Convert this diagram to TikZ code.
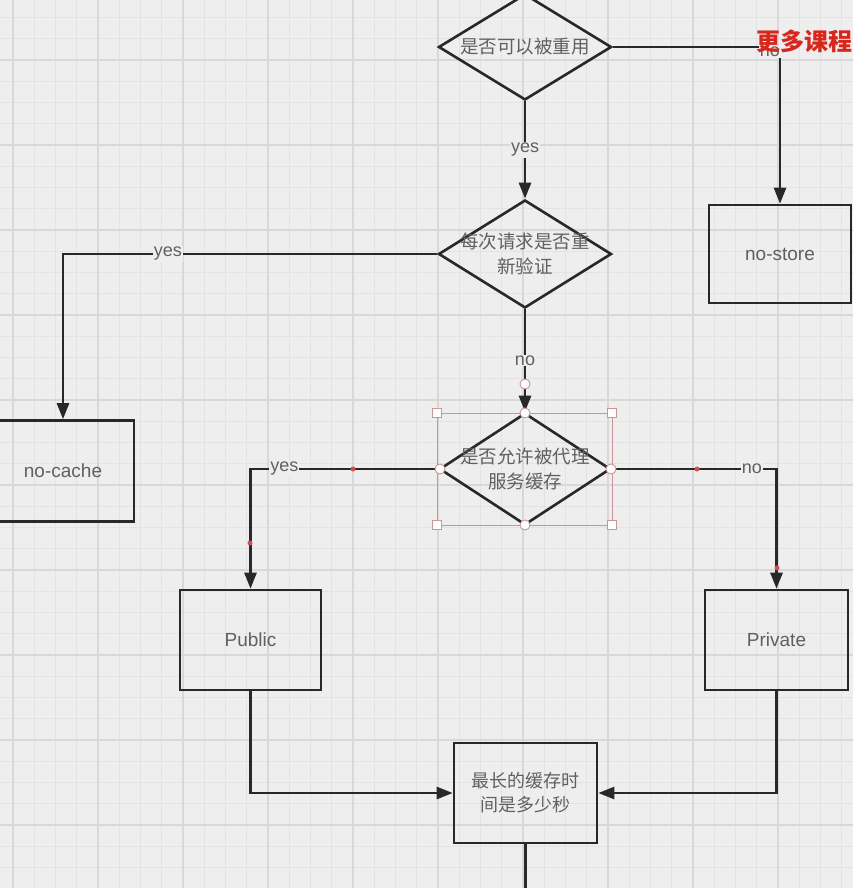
\documentclass[tikz,border=0pt]{standalone}
\usepackage{fontspec}
\setmainfont{Liberation Sans}
\newfontfamily\cjk{Noto Sans CJK SC}
\usetikzlibrary{shapes.geometric,arrows.meta}
\definecolor{bg}{HTML}{EEEEEF}
\definecolor{gridminor}{HTML}{E3E3E5}
\definecolor{gridmajor}{HTML}{D8D8DB}
\definecolor{ink}{HTML}{282828}
\definecolor{txt}{HTML}{606060}
\definecolor{pink}{HTML}{C89696}
\definecolor{reddot}{HTML}{D05050}
\definecolor{wm}{HTML}{D8261C}
\tikzset{
  dia/.style={draw=ink, line width=2.6pt, shape=diamond, inner sep=0pt},
  diatext/.style={inner sep=0pt, text=txt, align=center, font=\cjk\fontsize{18.5}{24.5}\selectfont},
  box/.style={draw=ink, line width=2.6pt, rectangle, inner sep=0pt, text=txt,
    align=center, font=\fontsize{19}{22}\selectfont},
  conn/.style={draw=ink, line width=2.6pt, -{Triangle[length=16pt,width=12pt]}},
  plainconn/.style={draw=ink, line width=2.6pt},
  lbl/.style={fill=bg, inner sep=1pt, text=txt, font=\fontsize{18}{20}\selectfont},
  handlesq/.style={draw=pink, fill=white, line width=0.9pt, minimum size=9pt, inner sep=0pt, rectangle},
  handleci/.style={draw=pink, fill=white, line width=0.9pt, minimum size=10pt, inner sep=0pt, circle},
  rdot/.style={fill=reddot, circle, minimum size=5pt, inner sep=0pt},
}
\begin{document}
\begin{tikzpicture}[x=1pt,y=-1pt]
\useasboundingbox (0,0) rectangle (853,888);
\clip (0,0) rectangle (853,888);
\fill[bg] (0,0) rectangle (853,888);
% grid
\foreach \i in {0,...,40} {
  \draw[gridminor, line width=0.8pt] ({13+21.25*(\i-1)},0) -- ++(0,888);
}
\foreach \i in {-3,...,39} {
  \draw[gridminor, line width=0.8pt] (0,{60+21.25*\i}) -- ++(853,0);
}
\foreach \i in {0,...,10} {
  \draw[gridmajor, line width=1.1pt] ({13+85*\i},0) -- ++(0,888);
}
\foreach \i in {-1,...,10} {
  \draw[gridmajor, line width=1.1pt] (0,{60+85*\i}) -- ++(853,0);
}
% nodes
\node[dia, minimum width=173pt, minimum height=106pt] (d1) at (525,47) {};
\node[diatext] (d1t) at (d1.center) {是否可以被重用};
\node[dia, minimum width=173pt, minimum height=108pt] (d2) at (525,254) {};
\node[diatext] (d2t) at (d2.center) {每次请求是否重\\新验证};
\node[dia, minimum width=171pt, minimum height=112pt] (d3) at (525,469) {};
\node[diatext] (d3t) at (d3.center) {是否允许被代理\\服务缓存};
\node[box, minimum width=142pt, minimum height=98pt] (nostore) at (780,254) {no-store};
\node[box, minimum width=142pt, minimum height=101pt] (nocache) at (63,471) {no-cache};
\node[box, minimum width=141pt, minimum height=100pt] (public) at (250.5,640) {Public};
\node[box, minimum width=143pt, minimum height=100pt] (private) at (776.5,640) {Private};
\node[box, minimum width=143pt, minimum height=100pt, font=\cjk\fontsize{18}{24}\selectfont] (final) at (525.5,793) {最长的缓存时\\间是多少秒};
\coordinate (bottomend) at (525.5,900);
% connectors
\draw[conn] (d1.east) -| node[lbl, pos=0.47, yshift=-5pt] {no} (nostore.north);
\draw[conn] (d1.south) -- node[lbl] {yes} (d2.north);
\draw[conn] (d2.west) -| node[lbl, pos=0.36] {yes} (nocache.north);
\draw[conn] (d2.south) -- node[lbl] {no} (d3.north);
\draw[conn] (d3.west) -| node[lbl, pos=0.41] {yes} (public.north);
\draw[conn] (d3.east) -| node[lbl, pos=0.425] {no} (private.north);
\draw[conn] (public.south) |- (final.west);
\draw[conn] (private.south) |- (final.east);
\draw[plainconn] (final.south) -- (bottomend);
% selection handles
\draw[pink, line width=0.9pt] (437,413) rectangle (612,525);
\foreach \p in {(437,413),(612,413),(437,525),(612,525)} \node[handlesq] at \p {};
\foreach \p in {(525,413),(440,469),(611,469),(525,525),(525,384)} \node[handleci] at \p {};
\foreach \p in {(353,469),(697,469),(250,543),(777,568)} \node[rdot] at \p {};
% watermark
\node[anchor=west, inner sep=0pt, text=wm, font=\cjk\bfseries\fontsize{24}{26}\selectfont] (wmark) at (756,41) {更多课程};
\end{tikzpicture}
\end{document}
